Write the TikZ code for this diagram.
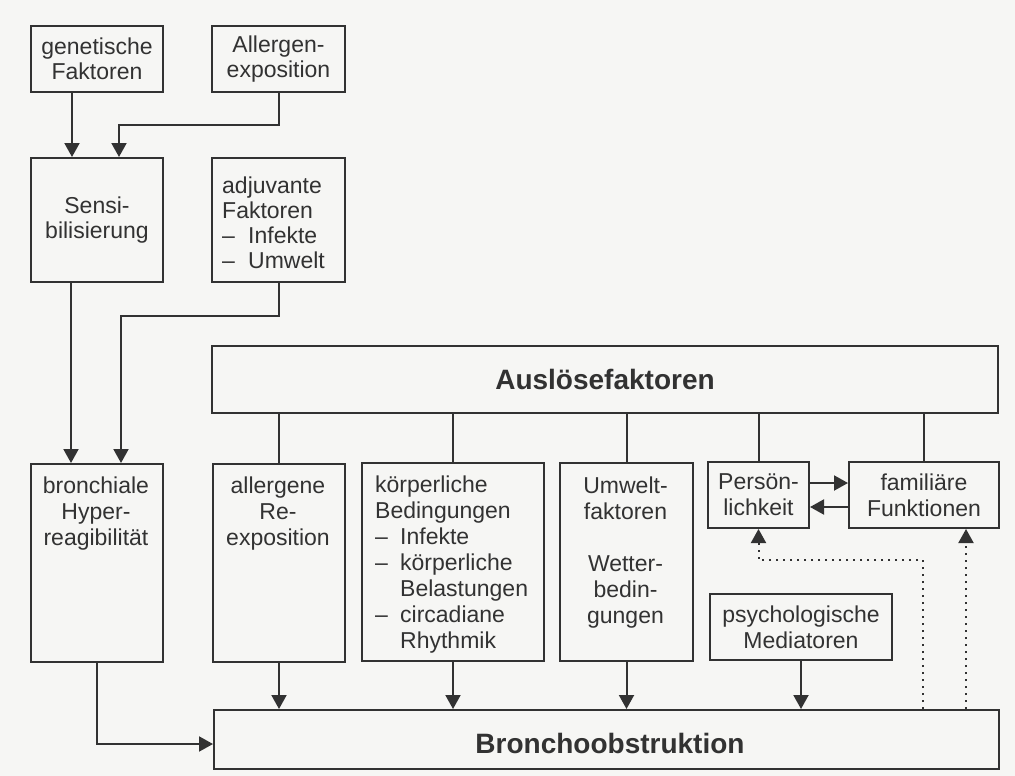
\documentclass[tikz,border=0pt]{standalone}
\usepackage{fontspec}
\setmainfont{Liberation Sans}
\usetikzlibrary{arrows.meta}
\definecolor{ink}{RGB}{50,50,50}
\definecolor{paper}{RGB}{246,246,244}
\begin{document}
\begin{tikzpicture}[x=1pt,y=-1pt,
  box/.style={draw=ink,line width=2pt,inner sep=0pt,anchor=north west,text=ink,
    font=\fontsize{23}{25}\selectfont,align=center},
  lbox/.style={box,font=\fontsize{23}{26}\selectfont},
  txt/.style={text=ink,inner sep=0pt,font=\fontsize{23}{26}\selectfont},
  ttl/.style={text=ink,inner sep=0pt,font=\bfseries\fontsize{28}{32}\selectfont},
  conn/.style={draw=ink,line width=2pt},
  arr/.style={conn,-{Triangle[length=14pt,width=15pt]}},
  dotarr/.style={arr,dash pattern=on 2pt off 5pt}]
\fill[paper] (0,0) rectangle (1015,776);
\useasboundingbox (0,0) rectangle (1015,776);
% top row
\node[box,minimum width=132pt,minimum height=66pt] (gen) at (30,25) {genetische\\Faktoren};
\node[box,minimum width=133pt,minimum height=66pt] (all) at (211,25) {Allergen-\\exposition};
\node[box,minimum width=132pt,minimum height=124pt] (sens) at (30,157) {Sensi-\\bilisierung};
\node[box,minimum width=133pt,minimum height=124pt] (adj) at (211,157) {};
\node[txt,anchor=north west,align=left,font=\fontsize{23}{25}\selectfont] (adjt) at (222,176.5)
  {adjuvante\\Faktoren\\\makebox[26pt][l]{–}Infekte\\\makebox[26pt][l]{–}Umwelt};
% Ausloesefaktoren
\node[box,minimum width=786pt,minimum height=67pt,ttl] (ausl) at (211,345) {Auslösefaktoren};
% middle row
\node[lbox,minimum width=132pt,minimum height=198pt] (bron) at (30,463) {};
\node[txt,anchor=north,align=center] (bront) at (96,476.5) {bronchiale\\Hyper-\\reagibilität};
\node[lbox,minimum width=132pt,minimum height=198pt] (allg) at (212,463) {};
\node[txt,anchor=north,align=center] (allgt) at (278,476.5) {allergene\\Re-\\exposition};
\node[lbox,minimum width=182pt,minimum height=198pt] (koer) at (361,462) {};
\node[txt,anchor=north west,align=left] (koert) at (375,476)
  {körperliche\\Bedingungen\\\makebox[25pt][l]{–}Infekte\\\makebox[25pt][l]{–}körperliche\\\hspace*{25pt}Belastungen\\\makebox[25pt][l]{–}circadiane\\\hspace*{25pt}Rhythmik};
\node[lbox,minimum width=133pt,minimum height=198pt] (umw) at (559,462) {};
\node[txt,anchor=north,align=center] (umwt) at (625.5,476.5) {Umwelt-\\faktoren\\[26pt]Wetter-\\bedin-\\gungen};
\node[lbox,minimum width=101pt,minimum height=66pt] (pers) at (707,461) {Persön-\\lichkeit};
\node[lbox,minimum width=150pt,minimum height=66pt] (fam) at (848,461) {familiäre\\Funktionen};
\node[lbox,minimum width=182pt,minimum height=66pt] (psy) at (709,593) {psychologische\\Mediatoren};
% Bronchoobstruktion
\node[box,minimum width=785pt,minimum height=59pt] (bro) at (213,709) {};
\node[ttl,anchor=base] (brot) at (610,753) {Bronchoobstruktion};
% connectors top
\draw[arr] ([xshift=-25pt]gen.south) -- ([xshift=-25pt]sens.north);
\draw[arr] (all.south) -- ++(0,32) -| ([xshift=22pt]sens.north);
\draw[arr] ([xshift=-26pt]sens.south) -- ([xshift=-26pt]bron.north);
\draw[arr] (adj.south) -- ++(0,33) -| ([xshift=24pt]bron.north);
% from Ausloesefaktoren
\draw[conn] (ausl.south -| allg.north) -- (allg.north);
\draw[conn] (ausl.south -| koer.north) -- (koer.north);
\draw[conn] (ausl.south -| umw.north) -- (umw.north);
\draw[conn] (ausl.south -| pers.north) -- (pers.north);
\draw[conn] (ausl.south -| fam.north) -- (fam.north);
% into Bronchoobstruktion
\draw[arr] (bron.south) |- ([yshift=-4.5pt]bro.west);
\draw[arr] (allg.south) -- (allg.south |- bro.north);
\draw[arr] (koer.south) -- (koer.south |- bro.north);
\draw[arr] (umw.south) -- (umw.south |- bro.north);
\draw[arr] (psy.south) -- (psy.south |- bro.north);
% Persoenlichkeit <-> familiaere Funktionen
\draw[arr] ([yshift=12pt]pers.east) -- ([yshift=12pt]fam.west);
\draw[arr] ([yshift=-12pt]fam.west) -- ([yshift=-12pt]pers.east);
% dotted feedback
\coordinate (dj) at (923,560);
\coordinate (fd) at ([xshift=42pt]fam.south);
\draw[dotarr] (bro.north -| dj) -- (dj) -| (pers.south);
\draw[dotarr] (fd |- bro.north) -- (fd);
\end{tikzpicture}
\end{document}
